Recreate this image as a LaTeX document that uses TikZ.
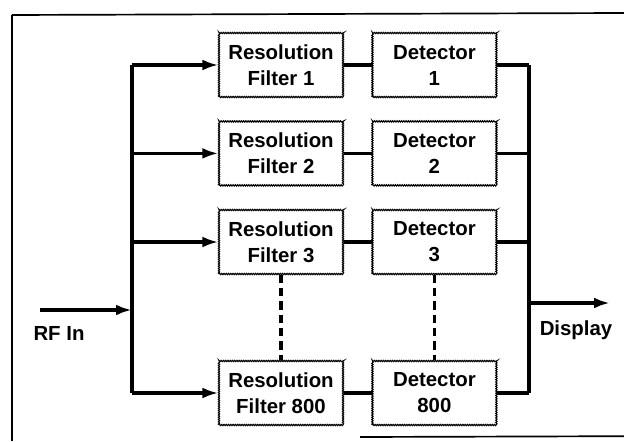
\documentclass[tikz,border=0pt]{standalone}
\usepackage{fontspec}
\setmainfont{Liberation Sans}
\usetikzlibrary{arrows.meta,decorations.pathmorphing}

\begin{document}
\begin{tikzpicture}
  [block/.style={rectangle, draw, line width=0.8pt, minimum width=3.1cm, minimum height=1.6cm,
     inner sep=0pt, align=center, font=\fontsize{14.5}{18.5}\selectfont\bfseries,
     decorate, decoration={zigzag, segment length=1.6pt, amplitude=0.45pt}},
   label/.style={inner sep=0pt, font=\fontsize{14.5}{18}\selectfont\bfseries},
   bus/.style={line width=2.3pt},
   feed/.style={line width=2.3pt, -{Latex[length=4mm, width=2.7mm]}},
   dots/.style={line width=2.6pt, dash pattern=on 6pt off 3.5pt}]

 \useasboundingbox (0,0) rectangle (15.6,11.025);

 % frame
 \draw[line width=0.8pt] (0.3,0) -- (0.3,10.65);
 \draw[line width=1.2pt] (0.3,10.65) -- (15.6,10.7);
 \draw[line width=1.2pt] (9.0,0.1) -- (15.6,0.12);

 \node[block] (rf1) at (7.025,9.4) {Resolution\\Filter 1};
 \node[block] (rf2) at (7.025,7.19) {Resolution\\Filter 2};
 \node[block] (rf3) at (7.025,4.975) {Resolution\\Filter 3};
 \node[block] (rf800) at (7.025,1.2) {Resolution\\Filter 800};

 \node[block] (det1) at (10.86,9.4) {Detector\\1};
 \node[block] (det2) at (10.86,7.19) {Detector\\2};
 \node[block] (det3) at (10.86,4.975) {Detector\\3};
 \node[block] (det800) at (10.86,1.2) {Detector\\800};

 \node[label] (rflabel) at (1.475,2.7) {RF In};
 \node[label] (displabel) at (14.4,2.775) {Display};

 \coordinate (lbus) at (3.3,0);
 \coordinate (rbus) at (13.225,0);
 \coordinate (rfin) at (1.0,3.275);
 \coordinate (disp) at (15.25,3.45);

 % input side
 \draw[feed] (rfin) -- (rfin -| lbus);
 \draw[bus] (rf1.west -| lbus) -- (rf800.west -| lbus);
 \foreach \n in {1,2,3,800}
   \draw[feed] (rf\n.west -| lbus) -- (rf\n.west);

 % filter to detector, detector to output bus
 \foreach \n in {1,2,3,800} {
   \draw[bus] (rf\n.east) -- (det\n.west);
   \draw[bus] (det\n.east) -- (det\n.east -| rbus);
 }
 \draw[bus] (det1.east -| rbus) -- (det800.east -| rbus);
 \draw[feed] (disp -| rbus) -- (disp);

 \draw[dots] (rf3.south) -- (rf800.north);
 \draw[dots] (det3.south) -- (det800.north);

\end{tikzpicture}
\end{document}
